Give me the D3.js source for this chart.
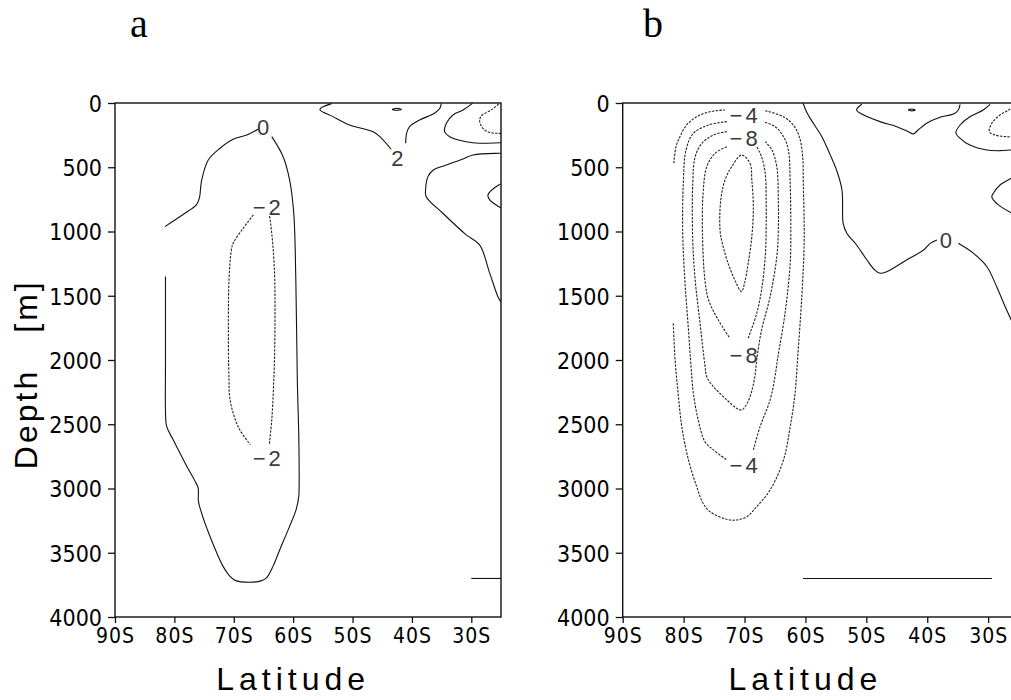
<!DOCTYPE html>
<html>
<head>
<meta charset="utf-8">
<script src="https://cdn.jsdelivr.net/npm/d3@7"></script>
<style>
  body { margin: 0; background: #fff; }
  svg { display: block; }
</style>
</head>
<body>
<div class="main"></div>
<script>
// axis ticks
const latTicks = [-90, -80, -70, -60, -50, -40, -30]
const depthTicks = [0, 500, 1000, 1500, 2000, 2500, 3000, 3500, 4000]

// panel a contours, [lat, depth]
const aZeroTop = [[-81.6,962],[-78.6,870],[-76.3,793],[-75.8,741],[-75.4,599],[-74.3,443],[-72.3,352],[-70.1,283],[-67.8,249],[-65.9,205]]
const aZeroMain = [[-63.6,262],[-61.7,417],[-60.6,599],[-59.9,857],[-59.55,1376],[-59.3,2154],[-59.05,2595],[-59.0,3000],[-59.05,3061],
  [-59.5,3165],[-60.6,3295],[-62.25,3476],[-63.4,3606],[-64.5,3696],[-65.3,3717],[-67.3,3730],[-69.8,3715],[-70.65,3683],
  [-71.8,3606],[-74.0,3373],[-75.5,3180],[-75.95,3100],[-76.0,2996],[-76.5,2945],[-77.9,2828],[-80.2,2621],[-81.3,2517],
  [-81.5,2387],[-81.5,2076],[-81.5,1351]]
const aM2Left = [[-66.7,871],[-68.5,980],[-70.1,1091],[-70.4,1143],[-70.8,1376],[-70.9,1895],[-70.8,2154],[-70.7,2284],[-70.1,2413],[-69.0,2543],[-67.2,2659]]
const aM2Right = [[-64.0,2652],[-63.6,2465],[-63.3,2206],[-63.1,1900],[-63.1,1376],[-63.4,1117],[-63.8,935],[-64.0,871]]
const aTwoLeft = [[-53.55,5],[-55.5,50],[-53.3,106],[-50.5,171],[-46.55,223],[-45.4,262],[-43.5,360]]
const aTwoRight = [[-41.05,313],[-40.9,236],[-40.4,184],[-38.7,132],[-36.2,80],[-35.3,41],[-35.05,3]]
const aBlip = [[-43.3,50],[-42.55,42],[-41.8,50],[-42.55,58]]
const aTopRight = [[-29.8,3],[-31.4,54],[-33.1,93],[-34.2,158],[-34.5,223],[-33.65,262],[-30.85,301],[-28.6,313],[-25.2,309],[-24.5,309]]
const aDashRight = [[-25.4,8],[-26.5,50],[-28.3,100],[-28.6,140],[-28.0,200],[-27.0,228],[-25.4,236],[-24.5,236]]
const aMidRight = [[-24.5,391],[-25.4,391],[-29.7,404],[-31.4,435],[-34.2,482],[-36.4,521],[-37.3,573],[-37.7,676],[-37.6,729],
  [-34.8,858],[-30.85,1026],[-28.6,1104],[-26.9,1324],[-25.4,1519],[-24.8,1560]]
const aVRight = [[-24.5,620],[-25.4,638],[-27.2,715],[-26.9,754],[-25.4,806],[-24.5,830]]
const aBottom = [[-30.0,3700],[-25.0,3700]]

const aLabels = [
  {lat: -64.8, depth: 184, level: 0},
  {lat: -64.2, depth: 811, level: -2},
  {lat: -42.2, depth: 430, level: 2},
  {lat: -64.2, depth: 2763, level: -2}
]

// panel b contours
const bM2Top = [[-81.6,469],[-81.25,340],[-80.6,262],[-79.5,171],[-77.85,107],[-75.7,68],[-73.2,54]]
const bM2Main = [[-66.6,60],[-63.6,107],[-62.0,171],[-61.0,262],[-60.45,418],[-60.35,625],[-60.2,1066],[-60.6,1507],[-61.3,2000],
  [-61.7,2259],[-62.5,2519],[-63.6,2778],[-65.8,3012],[-68.0,3141],[-69.6,3219],[-71.3,3245],[-72.9,3240],[-75.7,3180],
  [-76.8,3115],[-77.85,2986],[-79.2,2778],[-80.3,2519],[-80.9,2259],[-81.4,2000],[-81.7,1714]]
const bM4Left = [[-72.9,145],[-75.9,171],[-78.4,236],[-79.6,366],[-80.05,625],[-80.15,1000],[-79.8,1377],[-79.2,1767],[-78.8,2040],
  [-78.4,2259],[-77.6,2467],[-76.5,2636],[-75.1,2700],[-72.9,2778]]
const bM4Right = [[-68.55,2700],[-67.45,2519],[-65.8,2311],[-65.0,2130],[-64.6,2000],[-63.35,1637],[-62.5,1248],[-62.4,1000],
  [-62.5,625],[-62.8,366],[-63.6,262],[-65.0,184],[-66.9,145]]
const bM6 = [[-72.9,223],[-75.1,249],[-77.0,314],[-78.1,418],[-78.5,625],[-78.5,1066],[-78.1,1377],[-77.3,1714],[-76.5,2040],
  [-76.2,2130],[-75.1,2208],[-72.9,2311],[-71.3,2376],[-70.5,2389],[-69.9,2363],[-69.1,2286],[-68.3,2130],[-68.0,2000],
  [-67.2,1767],[-65.8,1507],[-64.7,1196],[-64.45,988],[-64.45,755],[-64.7,496],[-65.5,366],[-66.6,301]]
const bM8Left = [[-72.9,340],[-74.85,392],[-76.2,496],[-76.8,703],[-76.9,1030],[-76.5,1377],[-75.9,1533],[-74.3,1689],[-72.4,1831]]
const bM8Right = [[-69.4,1831],[-68.0,1637],[-67.2,1455],[-66.6,1196],[-66.45,988],[-66.45,755],[-66.6,547],[-67.2,418],[-68.0,340]]
const bM10 = [[-70.5,405],[-69.1,469],[-68.8,599],[-68.55,807],[-68.8,1040],[-69.4,1248],[-70.0,1403],[-70.5,1468],
  [-71.6,1377],[-72.7,1248],[-73.5,1118],[-74.0,1000],[-73.9,755],[-73.2,599],[-72.1,496]]
const bZeroLeft = [[-60.4,0],[-59.7,80],[-58.7,158],[-57.3,262],[-55.96,400],[-54.9,520],[-54.0,677],[-53.8,936],[-53.2,1014],
  [-51.6,1105],[-49.9,1222],[-48.6,1300],[-47.75,1325],[-46.65,1313],[-43.4,1222],[-40.6,1144],[-39.5,1092],[-38.4,1066]]
const bZeroRight = [[-34.9,1092],[-32.4,1170],[-30.2,1274],[-28.6,1430],[-27.2,1585],[-26.2,1689],[-25.0,1810]]
const bTwo = [[-50.75,10],[-51.6,54],[-50.75,86],[-47.75,145],[-45.0,184],[-43.1,223],[-42.3,241],[-41.5,210],[-40.1,158],
  [-37.9,111],[-35.7,86],[-34.9,54],[-34.6,10]]
const bBlip = [[-43.1,54],[-42.55,47],[-42.0,54],[-42.55,61]]
const bTopRight = [[-29.7,10],[-30.8,54],[-33.0,107],[-34.6,171],[-35.3,231],[-34.6,275],[-33.0,327],[-30.2,366],[-28.05,371],[-26.2,366],[-25.0,365]]
const bDashRight = [[-25.5,5],[-26.5,50],[-28.05,93],[-29.4,158],[-29.8,223],[-28.9,249],[-26.95,262],[-25.0,265]]
const bVRight = [[-25.0,560],[-26.2,586],[-28.05,638],[-29.15,703],[-29.4,729],[-28.9,768],[-27.5,820],[-26.2,854],[-25.0,880]]
const bBottom = [[-60.4,3700],[-29.4,3700]]

const bLabels = [
  {lat: -69.9, depth: 93, level: -4},
  {lat: -69.9, depth: 275, level: -8},
  {lat: -36.7, depth: 1066, level: 0},
  {lat: -69.9, depth: 1961, level: -8},
  {lat: -69.9, depth: 2817, level: -4}
]

const panels = [
  {
    name: 'a', left: 115, right: 501, titleX: 139,
    contours: [
      {level: 0, pts: aZeroTop}, {level: 0, pts: aZeroMain},
      {level: -2, pts: aM2Left}, {level: -2, pts: aM2Right},
      {level: 2, pts: aTwoLeft}, {level: 2, pts: aTwoRight},
      {level: 4, pts: aBlip, closed: true},
      {level: 2, pts: aTopRight}, {level: -2, pts: aDashRight},
      {level: 2, pts: aMidRight}, {level: 4, pts: aVRight},
      {level: 0, pts: aBottom}
    ],
    labels: aLabels
  },
  {
    name: 'b', left: 622.7, right: 1018.6, titleX: 653,
    contours: [
      {level: -2, pts: bM2Top}, {level: -2, pts: bM2Main},
      {level: -4, pts: bM4Left}, {level: -4, pts: bM4Right},
      {level: -6, pts: bM6},
      {level: -8, pts: bM8Left}, {level: -8, pts: bM8Right},
      {level: -10, pts: bM10, closed: true},
      {level: 0, pts: bZeroLeft}, {level: 0, pts: bZeroRight},
      {level: 2, pts: bTwo}, {level: 4, pts: bBlip, closed: true},
      {level: 2, pts: bTopRight}, {level: -2, pts: bDashRight},
      {level: 4, pts: bVRight}, {level: 0, pts: bBottom}
    ],
    labels: bLabels
  }
]

let width = 1011, height = 700
let plotTop = 103, plotBottom = 617

let svg = d3.select('.main').append('svg')
  .attr('width', width)
  .attr('height', height)

let fmtLat = d => Math.abs(d) + 'S'
let fmtDepth = d3.format('d')
let fmtLevel = v => v < 0 ? '\u2212' + Math.abs(v) : String(v)

panels.forEach((p, pi) => {
  let x = d3.scaleLinear().domain([-90, -25]).range([p.left, p.right])
  let y = d3.scaleLinear().domain([0, 4000]).range([plotTop, plotBottom])

  let g = svg.append('g')

  g.append('clipPath').attr('id', 'clip' + pi)
    .append('rect')
    .attr('x', p.left).attr('y', plotTop)
    .attr('width', p.right - p.left).attr('height', plotBottom - plotTop)

  let open = d3.line().x(d => x(d[0])).y(d => y(d[1])).curve(d3.curveCatmullRom.alpha(0.5))
  let closed = d3.line().x(d => x(d[0])).y(d => y(d[1])).curve(d3.curveCatmullRomClosed.alpha(0.5))

  g.append('g').attr('clip-path', `url(#clip${pi})`)
    .selectAll('path').data(p.contours).enter().append('path')
      .attr('d', c => c.closed ? closed(c.pts) : open(c.pts))
      .attr('fill', 'none')
      .attr('stroke', c => c.level < 0 ? '#222' : '#111')
      .attr('stroke-width', c => c.level < 0 ? 1.1 : 1.1)
      .attr('stroke-dasharray', c => c.level < 0 ? '2.4,1.3' : null)

  g.selectAll('text.clab').data(p.labels).enter().append('text')
    .attr('class', 'clab')
    .attr('x', d => x(d.lat))
    .attr('y', d => y(d.depth))
    .attr('dy', '0.36em')
    .attr('text-anchor', 'middle')
    .style('font-family', '"Liberation Sans", Arial, sans-serif')
    .style('font-size', '22px')
    .style('letter-spacing', '3px')
    .style('fill', '#3a3a3a')
    .text(d => fmtLevel(d.level))

  // frame
  g.append('rect')
    .attr('x', p.left).attr('y', plotTop)
    .attr('width', p.right - p.left).attr('height', plotBottom - plotTop)
    .attr('fill', 'none').attr('stroke', '#111').attr('stroke-width', 1.4)

  let yAxis = d3.axisLeft(y).tickValues(depthTicks).tickFormat(fmtDepth).tickSize(7).tickSizeOuter(0).tickPadding(6)
  let xAxis = d3.axisBottom(x).tickValues(latTicks).tickFormat(fmtLat).tickSize(6).tickSizeOuter(0).tickPadding(5)

  g.append('g')
    .attr('transform', `translate(${p.left}, 0)`)
    .call(yAxis)
    .call(a => a.select('.domain').remove())
    .call(a => a.selectAll('line').attr('stroke', '#111').attr('stroke-width', 1.3))
    .call(a => a.selectAll('text')
      .style('font-family', '"Liberation Sans Narrow", "DejaVu Sans Condensed", sans-serif')
      .style('font-size', '23px').attr('fill', '#000').attr('dy', '0.36em'))

  g.append('g')
    .attr('transform', `translate(0, ${plotBottom})`)
    .call(xAxis)
    .call(a => a.select('.domain').remove())
    .call(a => a.selectAll('line').attr('stroke', '#111').attr('stroke-width', 1.3))
    .call(a => a.selectAll('text')
      .style('font-family', '"Liberation Sans Narrow", "DejaVu Sans Condensed", sans-serif')
      .style('font-size', '21px').style('letter-spacing', '1px').attr('fill', '#000'))

  g.append('text')
    .attr('x', x(-60)).attr('y', 690)
    .attr('text-anchor', 'middle')
    .style('font-family', '"Liberation Sans", Arial, sans-serif')
    .style('font-size', '32px').style('letter-spacing', '5px')
    .text('Latitude')

  g.append('text')
    .attr('x', p.titleX).attr('y', 37)
    .attr('text-anchor', 'middle')
    .style('font-family', '"Liberation Serif", "DejaVu Serif", serif')
    .style('font-size', '40px')
    .text(p.name)
})

// y axis title of panel a
let yTitle = svg.append('g').attr('transform', 'translate(37, 0)')
yTitle.append('text')
  .attr('transform', 'translate(0, 419) rotate(-90)')
  .attr('text-anchor', 'middle')
  .style('font-family', '"Liberation Sans", Arial, sans-serif')
  .style('font-size', '32px').style('letter-spacing', '3px')
  .text('Depth')
yTitle.append('text')
  .attr('transform', 'translate(0, 306) rotate(-90)')
  .attr('text-anchor', 'middle')
  .style('font-family', '"Liberation Sans", Arial, sans-serif')
  .style('font-size', '32px').style('letter-spacing', '3px')
  .text('[m]')
</script>
</body>
</html>
